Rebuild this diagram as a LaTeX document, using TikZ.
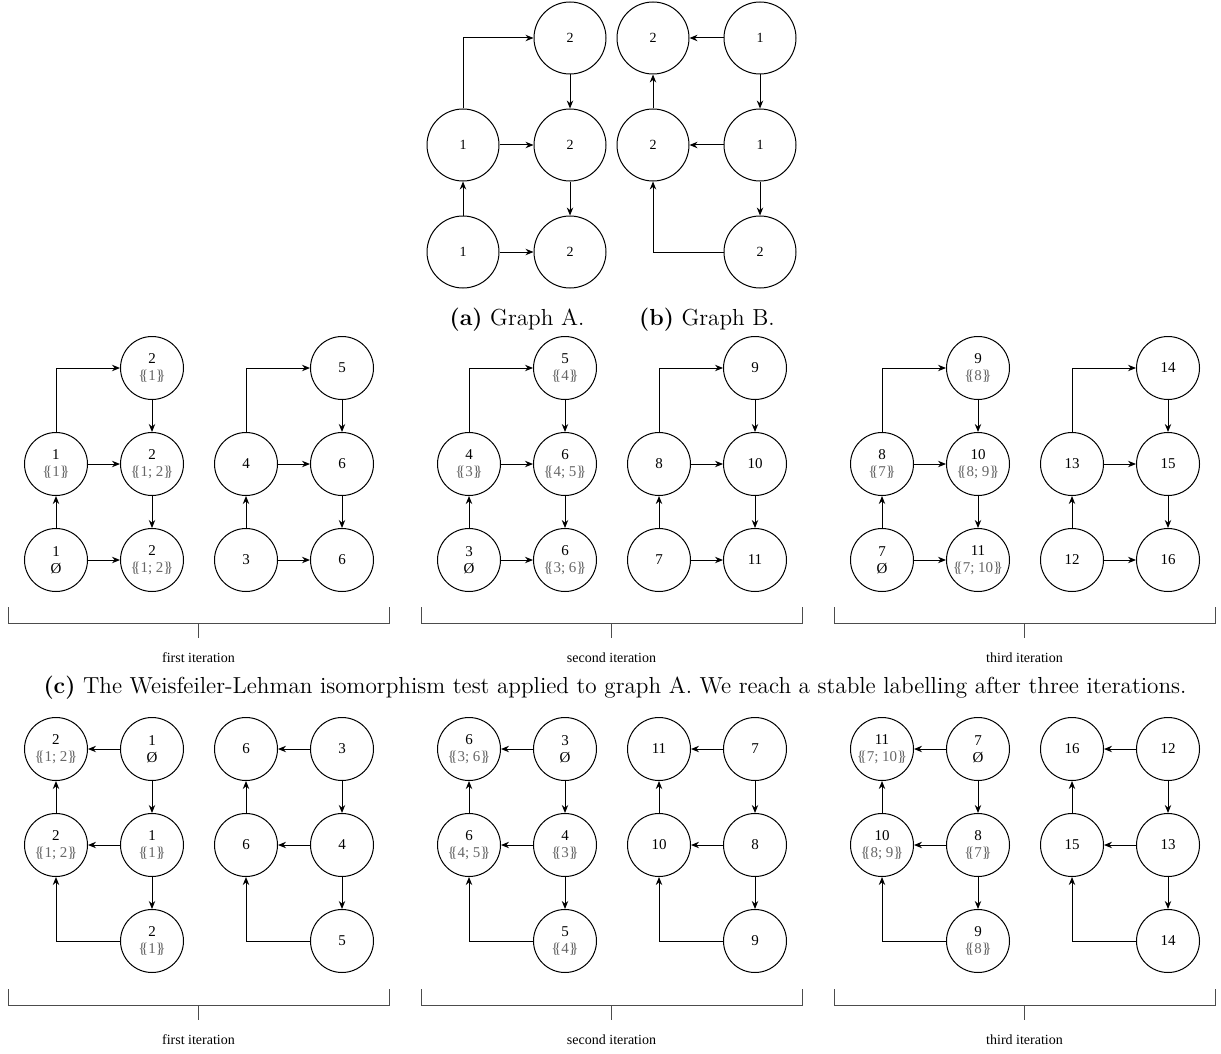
\documentclass[tikz,border=0pt]{standalone}
\usepackage{fontspec}
\usepackage{xcolor}
\usepackage{tikz}
\usetikzlibrary{arrows.meta,positioning,calc}
\newfontfamily\graphfont{Liberation Serif}
\definecolor{MsetGray}{gray}{0.4}

\newcommand{\mset}[1]{\textcolor{MsetGray}{\{\kern-0.3em\{#1\}\kern-0.3em\}}}

% graph A: #1 name, #2 bottom-left, #3 style, #4-#8 labels bl, br, ml, mr, tr
\newcommand{\graphA}[8]{%
  \begin{scope}[shift={#2},#3]
    \node[vert] (#1bl) at (0,0) {#4};
    \node[vert] (#1br) at (1,0) {#5};
    \node[vert] (#1ml) at (0,1) {#6};
    \node[vert] (#1mr) at (1,1) {#7};
    \node[vert] (#1tr) at (1,2) {#8};
    \draw[arr] (#1bl)--(#1ml);
    \draw[arr] (#1bl)--(#1br);
    \draw[arr] (#1ml)--(#1mr);
    \draw[arr] (#1ml.north)|-(#1tr.west);
    \draw[arr] (#1tr)--(#1mr);
    \draw[arr] (#1mr)--(#1br);
  \end{scope}}

% graph B: #1 name, #2 bottom-left, #3 style, #4-#8 labels tl, tr, ml, mr, br
\newcommand{\graphB}[8]{%
  \begin{scope}[shift={#2},#3]
    \node[vert] (#1tl) at (0,2) {#4};
    \node[vert] (#1tr) at (1,2) {#5};
    \node[vert] (#1ml) at (0,1) {#6};
    \node[vert] (#1mr) at (1,1) {#7};
    \node[vert] (#1br) at (1,0) {#8};
    \draw[arr] (#1tr)--(#1tl);
    \draw[arr] (#1tr)--(#1mr);
    \draw[arr] (#1mr)--(#1ml);
    \draw[arr] (#1ml)--(#1tl);
    \draw[arr] (#1mr)--(#1br);
    \draw[arr] (#1br.west)-|(#1ml.south);
  \end{scope}}

% bracket under one iteration: #1 name, #2 top left, #3 label
\newcommand{\iterbrace}[3]{%
  \begin{scope}[shift={#2}]
    \draw[brace] (0,0)--(0,16)--(381,16)--(381,0);
    \draw[brace] (190.5,16)--(190.5,31);
    \node[iter] (#1) at (190.5,51) {#3};
  \end{scope}}

\begin{document}
\begin{tikzpicture}[x=0.5pt,y=-0.5pt,
  vert/.style={draw,circle,inner sep=0pt,align=center,line width=0.5pt},
  topgraph/.style={x=53.5pt,y=53.5pt,vert/.append style={minimum size=36pt,font=\graphfont\fontsize{7}{8}\selectfont}},
  wlgraph/.style={x=48pt,y=48pt,vert/.append style={minimum size=31.5pt,font=\graphfont\fontsize{7.5}{8.5}\selectfont}},
  arr/.style={-{Stealth[length=4pt,width=3.2pt]},line width=0.5pt},
  brace/.style={draw=black!70,line width=0.5pt},
  iter/.style={font=\graphfont\fontsize{7}{8}\selectfont},
  subcap/.style={font=\fontsize{11.6}{14}\selectfont}
]
\useasboundingbox (0,0) rectangle (1221,1054);

% graphs A and B
\graphA{a}{(463,252)}{topgraph}{1}{2}{1}{2}{2}
\graphB{b}{(653,252)}{topgraph}{2}{1}{2}{1}{2}
\node[subcap] (capa) at (517,320) {\textbf{(a)} Graph A.};
\node[subcap] (capb) at (707,320) {\textbf{(b)} Graph B.};

% WL on graph A
\graphA{pa1}{(56,560)}{wlgraph}{1\\Ø}{2\\\mset{1; 2}}{1\\\mset{1}}{2\\\mset{1; 2}}{2\\\mset{1}}
\graphA{qa1}{(246,560)}{wlgraph}{3}{6}{4}{6}{5}
\graphA{pa2}{(469,560)}{wlgraph}{3\\Ø}{6\\\mset{3; 6}}{4\\\mset{3}}{6\\\mset{4; 5}}{5\\\mset{4}}
\graphA{qa2}{(659,560)}{wlgraph}{7}{11}{8}{10}{9}
\graphA{pa3}{(882,560)}{wlgraph}{7\\Ø}{11\\\mset{7; 10}}{8\\\mset{7}}{10\\\mset{8; 9}}{9\\\mset{8}}
\graphA{qa3}{(1072,560)}{wlgraph}{12}{16}{13}{15}{14}
\iterbrace{ia1}{(8,607)}{first iteration}
\iterbrace{ia2}{(421,607)}{second iteration}
\iterbrace{ia3}{(834,607)}{third iteration}
\node[subcap] (capc) at (615,688) {\textbf{(c)} The Weisfeiler-Lehman isomorphism test applied to graph A. We reach a stable labelling after three iterations.};

% WL on graph B
\graphB{pb1}{(56,941)}{wlgraph}{2\\\mset{1; 2}}{1\\Ø}{2\\\mset{1; 2}}{1\\\mset{1}}{2\\\mset{1}}
\graphB{qb1}{(246,941)}{wlgraph}{6}{3}{6}{4}{5}
\graphB{pb2}{(469,941)}{wlgraph}{6\\\mset{3; 6}}{3\\Ø}{6\\\mset{4; 5}}{4\\\mset{3}}{5\\\mset{4}}
\graphB{qb2}{(659,941)}{wlgraph}{11}{7}{10}{8}{9}
\graphB{pb3}{(882,941)}{wlgraph}{11\\\mset{7; 10}}{7\\Ø}{10\\\mset{8; 9}}{8\\\mset{7}}{9\\\mset{8}}
\graphB{qb3}{(1072,941)}{wlgraph}{16}{12}{15}{13}{14}
\iterbrace{ib1}{(8,989)}{first iteration}
\iterbrace{ib2}{(421,989)}{second iteration}
\iterbrace{ib3}{(834,989)}{third iteration}
\end{tikzpicture}
\end{document}
